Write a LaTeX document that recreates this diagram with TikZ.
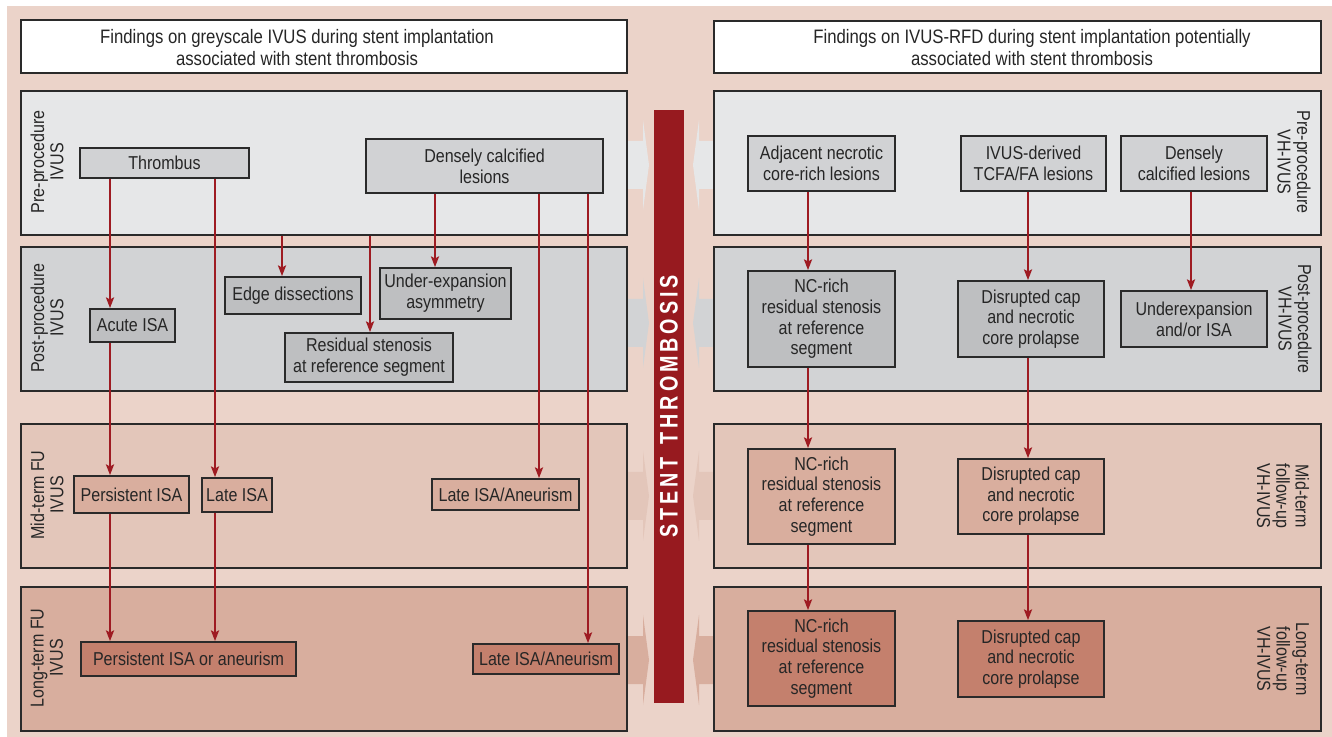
\documentclass[tikz,border=0pt]{standalone}
\usepackage{fontspec}
\setmainfont[FakeStretch=0.86]{Liberation Sans}
\newfontfamily\barfont[FakeStretch=0.78]{Liberation Sans}
\usetikzlibrary{arrows.meta}
\definecolor{bgpink}{HTML}{EBD3C9}
\definecolor{prepanel}{HTML}{E6E7E8}
\definecolor{prebox}{HTML}{D1D2D4}
\definecolor{postpanel}{HTML}{D2D3D5}
\definecolor{postbox}{HTML}{BEBFC1}
\definecolor{midpanel}{HTML}{E3C6BA}
\definecolor{midbox}{HTML}{D9AE9E}
\definecolor{longpanel}{HTML}{D8AE9E}
\definecolor{longbox}{HTML}{C4806D}
\definecolor{barred}{HTML}{971A1F}
\definecolor{arrred}{HTML}{9E1B22}
\definecolor{txt}{HTML}{262626}
\definecolor{edge}{HTML}{2A2A2A}
\newcommand\wideL[2]{\fill[#2] (627,#1-24) -- (643,#1-24) -- (643,#1-45) -- (649,#1) -- (643,#1+45) -- (643,#1+24) -- (627,#1+24) -- cycle;}
\newcommand\wideR[2]{\fill[#2] (714,#1-24) -- (699,#1-24) -- (699,#1-45) -- (693,#1) -- (699,#1+45) -- (699,#1+24) -- (714,#1+24) -- cycle;}
\def\ls{\kern2.9pt}
\begin{document}
\begin{tikzpicture}[x=0.75pt,y=-0.75pt,
  wh/.style 2 args={minimum width=#1*0.75pt, minimum height=#2*0.75pt},
  panel/.style={draw=edge, line width=1pt, inner sep=0pt},
  box/.style={draw=edge, line width=1.3pt, inner sep=0pt, align=center, text=txt, font=\fontsize{14}{15.5}\selectfont},
  hdr/.style={draw=edge, line width=1pt, fill=white, inner sep=0pt},
  htext/.style={align=center, text=txt, inner sep=0pt, font=\fontsize{14.6}{16.5}\selectfont},
  lbl/.style={align=center, text=txt, inner sep=0pt, font=\fontsize{14}{14.5}\selectfont},
  arr/.style={draw=arrred, line width=1.6pt, -{Stealth[length=8pt,width=6pt,inset=1.5pt]}}]
\useasboundingbox (0,0) rectangle (1332,737);
\fill[white] (0,0) rectangle (1332,737);
\fill[bgpink] (7,6) rectangle (1332,737);

% headers
\node[hdr, wh={606}{53}] (lhdr) at (324,46.5) {};
\node[htext] (lhtxt) at (297,48) {Findings on greyscale IVUS during stent implantation\\associated with stent thrombosis};
\node[hdr, wh={607}{52}] (rhdr) at (1017.5,47) {};
\node[htext] (rhtxt) at (1032,48) {Findings on IVUS-RFD during stent implantation potentially\\associated with stent thrombosis};

% wide arrows towards the bar
\wideL{165}{prepanel}
\wideL{323}{postpanel}
\wideL{496}{midpanel}
\wideL{660}{longpanel}
\wideR{165}{prepanel}
\wideR{323}{postpanel}
\wideR{496}{midpanel}
\wideR{660}{longpanel}

% panels
\node[panel, fill=prepanel,  wh={606}{144}] (lpre)  at (324,163) {};
\node[panel, fill=postpanel, wh={606}{144}] (lpost) at (324,319) {};
\node[panel, fill=midpanel,  wh={606}{144}] (lmid)  at (324,496) {};
\node[panel, fill=longpanel, wh={606}{144}] (llong) at (324,659) {};
\node[panel, fill=prepanel,  wh={607}{144}] (rpre)  at (1017.5,163) {};
\node[panel, fill=postpanel, wh={607}{144}] (rpost) at (1017.5,319) {};
\node[panel, fill=midpanel,  wh={607}{144}] (rmid)  at (1017.5,496) {};
\node[panel, fill=longpanel, wh={607}{144}] (rlong) at (1017.5,659) {};

% side labels
\node[lbl, rotate=90] (lpl) at (47,162) {Pre-procedure\\IVUS};
\node[lbl, rotate=90] (lpol) at (47,318) {Post-procedure\\IVUS};
\node[lbl, rotate=90] (lml) at (47,495) {Mid-term FU\\IVUS};
\node[lbl, rotate=90] (lll) at (47,658) {Long-term FU\\IVUS};
\node[lbl, rotate=-90] (rpl) at (1294,162) {Pre-procedure\\VH-IVUS};
\node[lbl, rotate=-90] (rpol) at (1295,319) {Post-procedure\\VH-IVUS};
\node[lbl, rotate=-90] (rml) at (1283,496) {Mid-term\\follow-up\\VH-IVUS};
\node[lbl, rotate=-90] (rll) at (1283,659) {Long-term\\follow-up\\VH-IVUS};

% central bar
\node[fill=barred, inner sep=0pt, wh={30}{593}] (bar) at (669,406.5) {};
\node[rotate=90, text=white, inner sep=0pt, font=\barfont\bfseries\fontsize{19}{19}\selectfont] (bartxt) at (bar.center)
  {S\ls T\ls E\ls N\ls T\ls\ \ls T\ls H\ls R\ls O\ls M\ls B\ls O\ls S\ls I\ls S};

% left nodes
\node[box, fill=prebox, wh={169}{30}] (thr) at (164.5,163) {Thrombus};
\node[box, fill=prebox, wh={237}{54}] (dcl) at (484.5,166) {Densely calcified\\lesions};
\node[box, fill=postbox, wh={85}{33}] (acu) at (132.5,325.5) {Acute ISA};
\node[box, fill=postbox, wh={136}{37}] (edg) at (293,295.5) {Edge dissections};
\node[box, fill=postbox, wh={131}{51}] (und) at (445.5,293.5) {Under-expansion\\asymmetry};
\node[box, fill=postbox, wh={168}{49}] (res) at (369,357.5) {Residual stenosis\\at reference segment};
\node[box, fill=midbox, wh={115}{37}] (pis) at (131.5,494.5) {Persistent ISA};
\node[box, fill=midbox, wh={70}{34}] (lis) at (237,495) {Late ISA};
\node[box, fill=midbox, wh={147}{31}] (lam) at (505.5,494.5) {Late ISA/Aneurism};
\node[box, fill=longbox, wh={215}{34}] (pia) at (188.5,659) {Persistent ISA or aneurism};
\node[box, fill=longbox, wh={146}{30}] (lal) at (546,659) {Late ISA/Aneurism};

% right nodes
\node[box, fill=prebox, wh={147}{55}] (adj) at (821.5,163.5) {Adjacent necrotic\\core-rich lesions};
\node[box, fill=prebox, wh={145}{55}] (tcf) at (1033.5,163.5) {IVUS-derived\\TCFA/FA lesions};
\node[box, fill=prebox, wh={146}{55}] (dcr) at (1194,163.5) {Densely\\calcified lesions};
\node[box, fill=postbox, wh={147}{96}] (nc1) at (821.5,319) {NC-rich\\residual stenosis\\at reference\\segment};
\node[box, fill=postbox, wh={146}{76}] (dc1) at (1031,319) {Disrupted cap\\and necrotic\\core prolapse};
\node[box, fill=postbox, wh={146}{56}] (uex) at (1194,319) {Underexpansion\\and/or ISA};
\node[box, fill=midbox, wh={147}{95}] (nc2) at (821.5,496.5) {NC-rich\\residual stenosis\\at reference\\segment};
\node[box, fill=midbox, wh={146}{75}] (dc2) at (1031,496.5) {Disrupted cap\\and necrotic\\core prolapse};
\node[box, fill=longbox, wh={147}{95}] (nc3) at (821.5,658.5) {NC-rich\\residual stenosis\\at reference\\segment};
\node[box, fill=longbox, wh={146}{76}] (dc3) at (1031,659) {Disrupted cap\\and necrotic\\core prolapse};

% x guides for connectors
\coordinate (x110) at (110,0);
\coordinate (x215) at (215,0);
\coordinate (x282) at (282,0);
\coordinate (x370) at (370,0);
\coordinate (x435) at (435,0);
\coordinate (x539) at (539,0);
\coordinate (x588) at (588,0);
\coordinate (x808) at (808,0);
\coordinate (x1028) at (1028,0);
\coordinate (x1191) at (1191,0);

% left connectors
\draw[arr] (thr.south -| x110) -- (acu.north -| x110);
\draw[arr] (acu.south -| x110) -- (pis.north -| x110);
\draw[arr] (pis.south -| x110) -- (pia.north -| x110);
\draw[arr] (thr.south -| x215) -- (lis.north -| x215);
\draw[arr] (lis.south -| x215) -- (pia.north -| x215);
\draw[arr] (lpre.south -| x282) -- (edg.north -| x282);
\draw[arr] (lpre.south -| x370) -- (res.north -| x370);
\draw[arr] (dcl.south -| x435) -- (und.north -| x435);
\draw[arr] (dcl.south -| x539) -- (lam.north -| x539);
\draw[arr] (dcl.south -| x588) -- (lal.north -| x588);

% right connectors
\draw[arr] (adj.south -| x808) -- (nc1.north -| x808);
\draw[arr] (nc1.south -| x808) -- (nc2.north -| x808);
\draw[arr] (nc2.south -| x808) -- (nc3.north -| x808);
\draw[arr] (tcf.south -| x1028) -- (dc1.north -| x1028);
\draw[arr] (dc1.south -| x1028) -- (dc2.north -| x1028);
\draw[arr] (dc2.south -| x1028) -- (dc3.north -| x1028);
\draw[arr] (dcr.south -| x1191) -- (uex.north -| x1191);
\end{tikzpicture}
\end{document}
